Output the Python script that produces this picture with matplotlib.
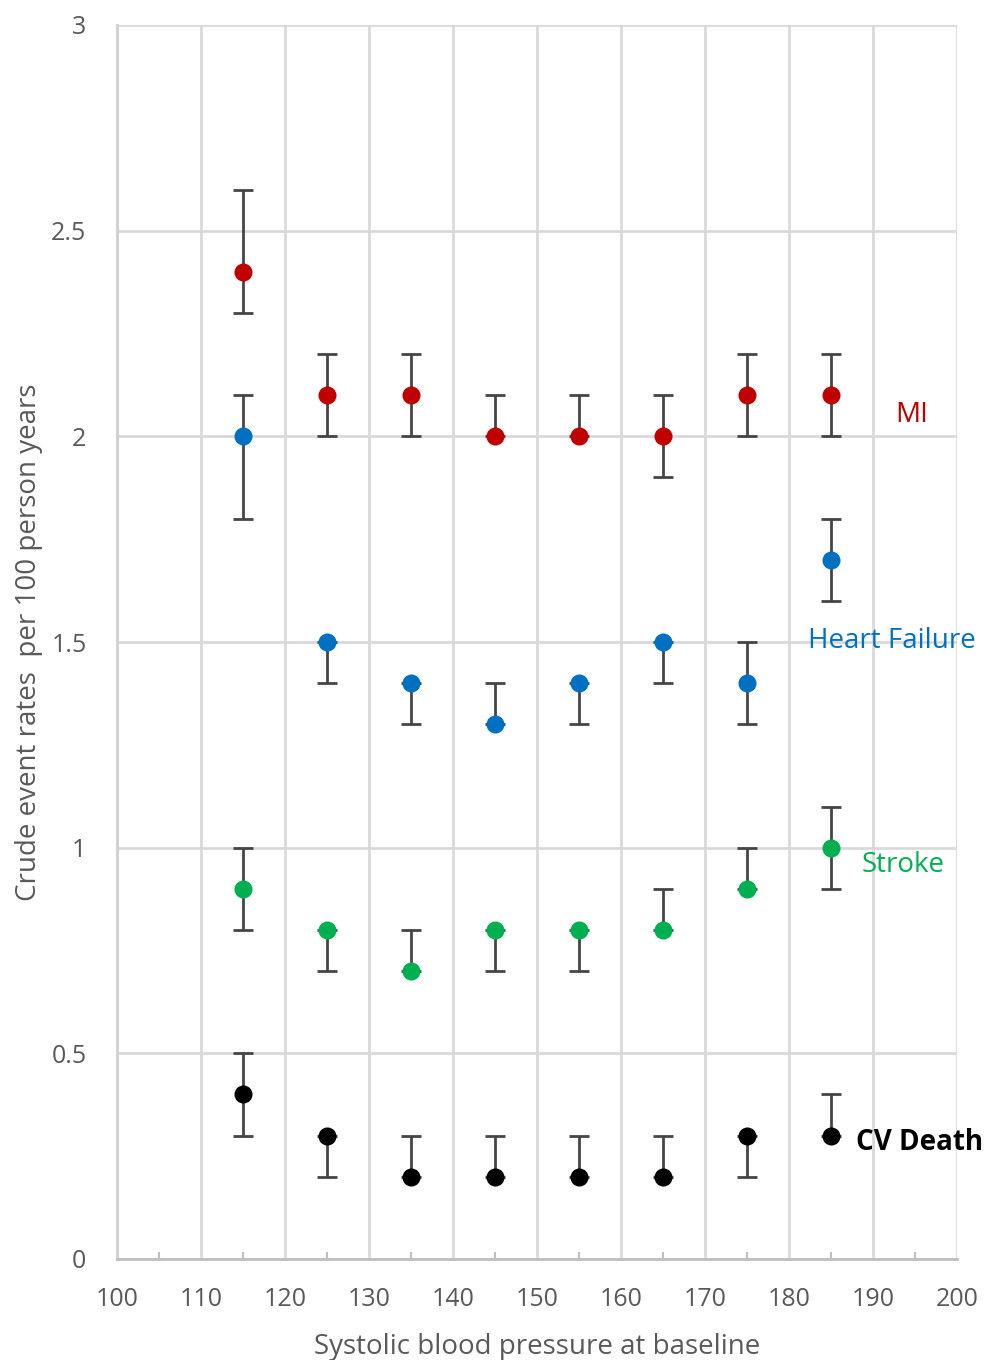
import matplotlib
matplotlib.use("Agg")
import matplotlib.pyplot as plt
import numpy as np

x = [115, 125, 135, 145, 155, 165, 175, 185]

mi = [2.4, 2.1, 2.1, 2.0, 2.0, 2.0, 2.1, 2.1]
mi_lo = [2.3, 2.0, 2.0, 2.0, 2.0, 1.9, 2.0, 2.0]
mi_hi = [2.6, 2.2, 2.2, 2.1, 2.1, 2.1, 2.2, 2.2]

hf = [2.0, 1.5, 1.4, 1.3, 1.4, 1.5, 1.4, 1.7]
hf_lo = [1.8, 1.4, 1.3, 1.3, 1.3, 1.4, 1.3, 1.6]
hf_hi = [2.1, 1.5, 1.4, 1.4, 1.4, 1.5, 1.5, 1.8]

st = [0.9, 0.8, 0.7, 0.8, 0.8, 0.8, 0.9, 1.0]
st_lo = [0.8, 0.7, 0.7, 0.7, 0.7, 0.8, 0.9, 0.9]
st_hi = [1.0, 0.8, 0.8, 0.8, 0.8, 0.9, 1.0, 1.1]

cv = [0.4, 0.3, 0.2, 0.2, 0.2, 0.2, 0.3, 0.3]
cv_lo = [0.3, 0.2, 0.2, 0.2, 0.2, 0.2, 0.2, 0.3]
cv_hi = [0.5, 0.3, 0.3, 0.3, 0.3, 0.3, 0.3, 0.4]

series = [
    ("MI", mi, mi_lo, mi_hi, "#C00000"),
    ("Heart Failure", hf, hf_lo, hf_hi, "#0070C0"),
    ("Stroke", st, st_lo, st_hi, "#00B050"),
    ("CV Death", cv, cv_lo, cv_hi, "#000000"),
]

plt.rcParams['font.family'] = ['Open Sans', 'DejaVu Sans']

fig = plt.figure(figsize=(9.86, 13.6), dpi=100)
ax = fig.add_axes([117/986, 1 - 1259/1360, (957-117)/986, (1259-25)/1360])

for name, v, lo, hi, c in series:
    v = np.array(v); lo = np.array(lo); hi = np.array(hi)
    yerr = np.vstack([v - lo, hi - v])
    ax.errorbar(x, v, yerr=yerr, fmt='none', ecolor='#454545', elinewidth=2,
                capsize=7, capthick=2, zorder=3)
    ax.plot(x, v, 'o', color=c, markersize=13, zorder=4, markeredgewidth=0)

ax.set_xlim(100, 200)
ax.set_ylim(0, 3)
ax.set_xticks(np.arange(100, 201, 10))
ax.set_xticks(np.arange(105, 200, 10), minor=True)
ax.set_yticks([0, 0.5, 1, 1.5, 2, 2.5, 3])
ax.set_yticklabels(['0', '0.5', '1', '1.5', '2', '2.5', '3'])
ax.grid(True, which='major', color='#D9D9D9', linewidth=2, zorder=0)
ax.set_axisbelow(True)
for s in ax.spines.values():
    s.set_visible(False)
ax.spines['bottom'].set_visible(True)
ax.spines['bottom'].set_color('#BFBFBF')
ax.spines['bottom'].set_linewidth(2)
ax.spines['left'].set_visible(True)
ax.spines['left'].set_color('#D0D0D0')
ax.spines['left'].set_linewidth(2)

ax.tick_params(axis='x', which='major', length=0, labelsize=18, colors='#595959', pad=20)
ax.tick_params(axis='x', which='minor', direction='in', length=5, width=1.5, color='#BFBFBF')
ax.tick_params(axis='y', which='major', length=0, labelsize=18, colors='#595959', pad=22)

ax.set_xlabel('Systolic blood pressure at baseline', fontsize=20, color='#595959', labelpad=15)
ax.set_ylabel('Crude event rates  per 100 person years', fontsize=20, color='#595959', labelpad=6)

lbl_kw = dict(fontsize=20, va='center', ha='center')
ax.annotate('MI', xy=(912/986, 1 - 415/1360), xycoords='figure fraction', color='#C00000', **lbl_kw)
ax.annotate('Heart Failure', xy=(892/986, 1 - 641/1360), xycoords='figure fraction', color='#0070C0', **lbl_kw)
ax.annotate('Stroke', xy=(903/986, 1 - 865/1360), xycoords='figure fraction', color='#00B050', **lbl_kw)
ax.annotate('CV Death', xy=(920/986, 1 - 1142/1360), xycoords='figure fraction', color='#000000',
            fontweight='bold', **lbl_kw)

fig.savefig('out.png', dpi=100)
